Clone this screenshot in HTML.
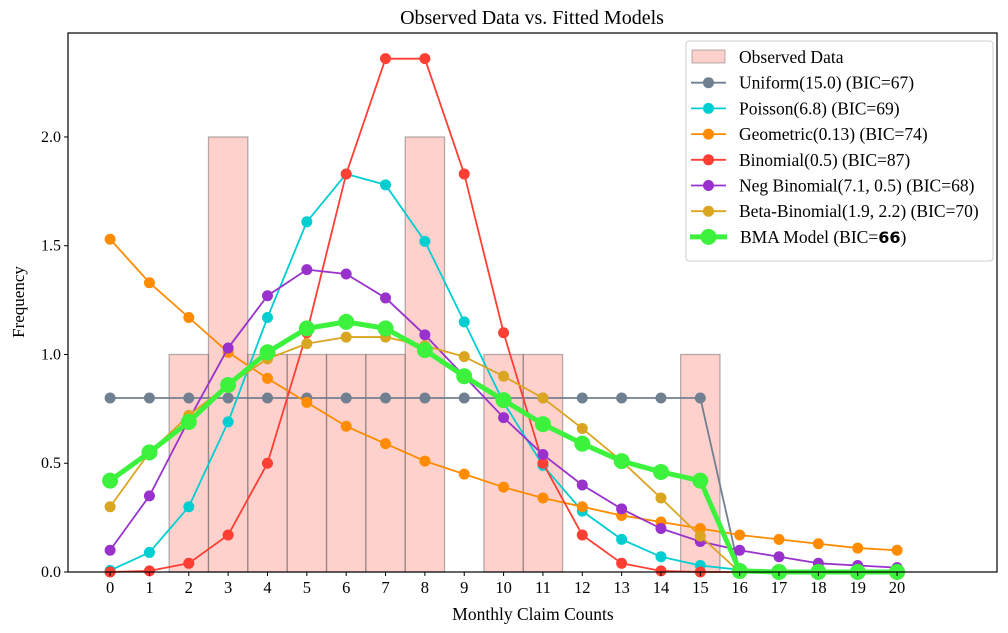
<!DOCTYPE html>
<html><head><meta charset="utf-8">
<style>
body{margin:0;background:#fff;}
svg{display:block;font-family:"Liberation Serif",serif;}
</style></head>
<body>
<svg id="chart" width="1008" height="633" xmlns="http://www.w3.org/2000/svg">
<rect width="1008" height="633" fill="#fff"/>
<text x="532" y="24" font-size="20" text-anchor="middle">Observed Data vs. Fitted Models</text>
<g id="bars"></g>
<g id="lines"></g>
<rect x="68" y="33" width="929" height="539" fill="none" stroke="#000" stroke-width="1.2"/>
<g id="axes"></g>
<text x="533" y="620" font-size="17.5" text-anchor="middle">Monthly Claim Counts</text>
<text x="24" y="302" font-size="17" text-anchor="middle" transform="rotate(-90 24 302)">Frequency</text>
<g id="legend"></g>
</svg>
<script>
const categories=[0,1,2,3,4,5,6,7,8,9,10,11,12,13,14,15,16,17,18,19,20];
const observed=[0,0,1,2,1,1,1,1,2,0,1,1,0,0,0,1,0,0,0,0,0];
const uniform=[0.8,0.8,0.8,0.8,0.8,0.8,0.8,0.8,0.8,0.8,0.8,0.8,0.8,0.8,0.8,0.8,0,0,0,0,0];
const poisson=[0.007,0.09,0.30,0.69,1.17,1.61,1.83,1.78,1.52,1.15,0.78,0.49,0.28,0.15,0.07,0.03,0.01,0.005,0,0,0];
const geometric=[1.53,1.33,1.17,1.01,0.89,0.78,0.67,0.59,0.51,0.45,0.39,0.34,0.30,0.26,0.23,0.20,0.17,0.15,0.13,0.11,0.10];
const binomial=[0,0.005,0.04,0.17,0.50,1.10,1.83,2.36,2.36,1.83,1.10,0.50,0.17,0.04,0.005,0,0,0,0,0,0];
const negbin=[0.10,0.35,0.70,1.03,1.27,1.39,1.37,1.26,1.09,0.90,0.71,0.54,0.40,0.29,0.20,0.14,0.10,0.07,0.04,0.03,0.02];
const betabin=[0.30,0.55,0.72,0.86,0.98,1.05,1.08,1.08,1.04,0.99,0.90,0.80,0.66,0.51,0.34,0.165,0,0,0,0,0];
const bma=[0.42,0.55,0.69,0.86,1.01,1.12,1.15,1.12,1.02,0.90,0.79,0.68,0.59,0.51,0.46,0.42,0.005,0,0,0,0];
const yTicks=["0.0","0.5","1.0","1.5","2.0"];
const legendLabels=["Uniform(15.0) (BIC=67)","Poisson(6.8) (BIC=69)","Geometric(0.13) (BIC=74)","Binomial(0.5) (BIC=87)","Neg Binomial(7.1, 0.5) (BIC=68)","Beta-Binomial(1.9, 2.2) (BIC=70)"];

const NS="http://www.w3.org/2000/svg";
const X0=68,X1=997,Y0=572,Y1=33,xmin=-1.07,xmax=22.54,ymin=0,ymax=2.478;
const sx=v=>X0+(v-xmin)/(xmax-xmin)*(X1-X0);
const sy=v=>Y0-(v-ymin)/(ymax-ymin)*(Y0-Y1);
function mk(tag,attrs,parent){const e=document.createElementNS(NS,tag);for(const k in attrs)e.setAttribute(k,attrs[k]);parent.appendChild(e);return e;}
const gb=document.getElementById('bars');
categories.forEach((c,i)=>{if(observed[i]>0){
 const r=mk('rect',{x:sx(c-0.5),y:sy(observed[i]),width:sx(c+0.5)-sx(c-0.5),height:sy(0)-sy(observed[i]),fill:'rgba(255,153,145,0.45)',stroke:'rgba(90,90,90,0.45)','stroke-width':1.3},gb);
 
 
}});
const series=[
 {d:uniform,c:'#708090',n:'uniform'},
 {d:poisson,c:'#00CED1',n:'poisson'},
 {d:geometric,c:'#FF8C00',n:'geometric'},
 {d:binomial,c:'#FF3F34',n:'binomial'},
 {d:negbin,c:'#9932CC',n:'neg-binomial'},
 {d:betabin,c:'#DAA520',n:'beta-binomial'},
 {d:bma,c:'#3DF23D',n:'bma',w:5,r:8}];
const gl=document.getElementById('lines');
series.forEach(s=>{
 const g=mk('g',{},gl);
 
 
 const pts=categories.map((c,i)=>sx(c)+','+sy(s.d[i])).join(' ');
 const pl=mk('polyline',{points:pts,fill:'none',stroke:s.c,'stroke-width':s.w||1.8,'stroke-linejoin':'round'},g);
 
 
 categories.forEach((c,i)=>{
  const p=mk('circle',{cx:sx(c),cy:sy(s.d[i]),r:s.r||5.5,fill:s.c},g);
  
  
 });
});
const ga=document.getElementById('axes');
categories.forEach(c=>{
 mk('line',{x1:sx(c),x2:sx(c),y1:Y0,y2:Y0+4,stroke:'#000'},ga);
 const t=mk('text',{x:sx(c),y:Y0+21,'font-size':16.5,'text-anchor':'middle'},ga);
 t.textContent=c;
 
 
});
yTicks.forEach(l=>{
 const v=parseFloat(l);
 mk('line',{x1:X0-4,x2:X0,y1:sy(v),y2:sy(v),stroke:'#000'},ga);
 const t=mk('text',{x:X0-7,y:sy(v)+5,'font-size':16,'text-anchor':'end'},ga);
 t.textContent=l;
 
 
});
const lg=document.getElementById('legend');


mk('rect',{x:686,y:41,width:307,height:220,rx:3,fill:'#fff','fill-opacity':0.85,stroke:'#ccc'},lg);
const LY0=57,LD=25.7;
const ob=mk('rect',{x:692,y:50,width:33,height:13,fill:'rgba(255,153,145,0.45)',stroke:'rgba(90,90,90,0.45)'},lg);


const ot=mk('text',{x:739,y:LY0+6,'font-size':17.5},lg);ot.textContent='Observed Data';
legendLabels.forEach((l,i)=>{
 const y=LY0+LD*(i+1),s=series[i];
 const g=mk('g',{},lg);
 
 
 mk('line',{x1:691,x2:726,y1:y,y2:y,stroke:s.c,'stroke-width':1.8},g);
 mk('circle',{cx:708.5,cy:y,r:5.5,fill:s.c},g);
 const t=mk('text',{x:739,y:y+6,'font-size':17.5},g);t.textContent=l;
});
{
 const y=LY0+LD*7;
 const g=mk('g',{},lg);
 
 
 mk('line',{x1:690,x2:727,y1:y,y2:y,stroke:'#3DF23D','stroke-width':5},g);
 mk('circle',{cx:708.5,cy:y,r:8,fill:'#3DF23D'},g);
 const t=mk('text',{x:740,y:y+6,'font-size':17.5},g);
 t.innerHTML='BMA Model (BIC=<tspan font-family="DejaVu Sans, sans-serif" font-weight="bold" font-size="16">66</tspan>)';
}
</script>
</body></html>
